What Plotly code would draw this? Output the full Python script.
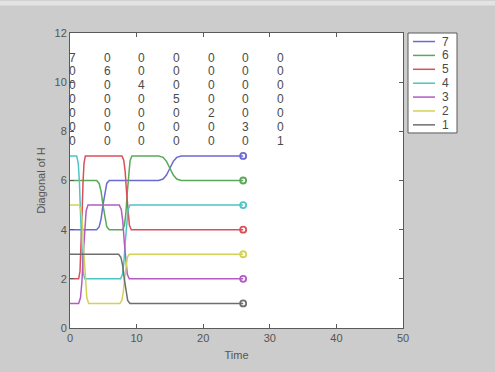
import plotly.graph_objects as go

# ---------------- data ----------------
series_labels = ["7", "6", "5", "4", "3", "2", "1"]
series_colors = ["#6a6ad2", "#5aa85a", "#d9505a", "#4fc4c4", "#b35cc4", "#d2d25a", "#6e6e6e"]

t_s7 = [0, 4.0, 4.38, 4.67, 4.95, 5.24, 5.52, 5.9, 13.3, 13.98, 14.49, 15.0, 15.51, 16.02, 16.7, 26]
y_s7 = [4, 4, 4.12, 4.44, 5.0, 5.56, 5.88, 6, 6, 6.06, 6.22, 6.5, 6.78, 6.94, 7, 7]

t_s6 = [0, 4.0, 4.38, 4.67, 4.95, 5.24, 5.52, 5.9, 7.9, 8.18, 8.39, 8.6, 8.81, 9.02, 9.3,
        13.3, 13.98, 14.49, 15.0, 15.51, 16.02, 16.7, 26]
y_s6 = [6, 6, 5.88, 5.56, 5.0, 4.44, 4.12, 4, 4, 4.18, 4.66, 5.5, 6.34, 6.82, 7,
        7, 6.94, 6.78, 6.5, 6.22, 6.06, 6, 6]

t_s5 = [0, 1.3, 1.5, 1.65, 1.8, 1.95, 2.1, 2.3, 7.8, 8.08, 8.29, 8.5, 8.71, 8.92, 9.2, 26]
y_s5 = [2, 2, 2.3, 3.1, 4.5, 5.9, 6.7, 7, 7, 6.82, 6.34, 5.5, 4.66, 4.18, 4, 4]

t_s4 = [0, 1.0, 1.24, 1.42, 1.6, 1.78, 1.96, 2.2, 7.6, 7.88, 8.09, 8.3, 8.51, 8.72, 9.0, 26]
y_s4 = [7, 7, 6.7, 5.9, 4.5, 3.1, 2.3, 2, 2, 2.18, 2.66, 3.5, 4.34, 4.82, 5, 5]

t_s3 = [0, 1.3, 1.58, 1.79, 2.0, 2.21, 2.42, 2.7, 7.4, 7.7, 7.93, 8.15, 8.38, 8.6, 8.9, 26]
y_s3 = [1, 1, 1.24, 1.88, 3.0, 4.12, 4.76, 5, 5, 4.82, 4.34, 3.5, 2.66, 2.18, 2, 2]

t_s2 = [0, 1.4, 1.68, 1.89, 2.1, 2.31, 2.52, 2.8, 7.5, 7.78, 7.99, 8.2, 8.41, 8.62, 8.9, 26]
y_s2 = [5, 5, 4.76, 4.12, 3.0, 1.88, 1.24, 1, 1, 1.12, 1.44, 2.0, 2.56, 2.88, 3, 3]

t_s1 = [0, 7.3, 7.64, 7.9, 8.15, 8.41, 8.66, 9.0, 26]
y_s1 = [3, 3, 2.88, 2.56, 2.0, 1.44, 1.12, 1, 1]

matrix_diag = [7, 6, 4, 5, 2, 3, 1]

x_ticks = [0, 10, 20, 30, 40, 50]
y_ticks = [0, 2, 4, 6, 8, 10, 12]

# ---------------- figure ----------------
W, H = 495, 372
ML, MR, MT, MB = 70, 92, 33, 38
PW, PH = W - ML - MR, H - MT - MB


def px2paper_x(px):
    return (px - ML) / PW


def px2paper_y(py):
    return (H - MB - py) / PH


series_t = [t_s7, t_s6, t_s5, t_s4, t_s3, t_s2, t_s1]
series_y = [y_s7, y_s6, y_s5, y_s4, y_s3, y_s2, y_s1]

fig = go.Figure()
for lab, col, tt, yy in zip(series_labels, series_colors, series_t, series_y):
    fig.add_trace(go.Scatter(x=tt, y=yy, mode="lines", name=lab,
                             line=dict(color=col, width=1.5), showlegend=False))
for lab, col, tt, yy in zip(series_labels, series_colors, series_t, series_y):
    fig.add_trace(go.Scatter(x=[tt[-1]], y=[yy[-1]], mode="markers", name=lab,
                             marker=dict(symbol="circle-open", size=6, color=col,
                                         line=dict(width=1.8, color=col)),
                             showlegend=False))

font_family = "Liberation Sans, Arial, sans-serif"
annotations = []
# matrix text (diagonal matrix)
n = len(matrix_diag)
for r in range(n):
    for c in range(n):
        val = matrix_diag[r] if r == c else 0
        annotations.append(dict(x=0.38 + 5.2 * c, y=11.0 - 0.565 * r, xref="x", yref="y",
                                text=str(val), showarrow=False, xanchor="center",
                                yanchor="middle",
                                font=dict(family=font_family, size=12, color="#4a4a4a")))

shapes = []
# light strip on top of window
shapes.append(dict(type="rect", xref="paper", yref="paper", layer="below",
                   x0=px2paper_x(0), x1=px2paper_x(W), y0=px2paper_y(5), y1=px2paper_y(0),
                   fillcolor="#e2e3e2", line=dict(width=0)))
# manual legend
lx0, lx1, ly0, ly1 = 408, 457, 33, 135
shapes.append(dict(type="rect", xref="paper", yref="paper",
                   x0=px2paper_x(lx0), x1=px2paper_x(lx1),
                   y0=px2paper_y(ly1), y1=px2paper_y(ly0),
                   fillcolor="white", line=dict(color="#5a5a5a", width=1)))
for i, (lab, col) in enumerate(zip(series_labels, series_colors)):
    py = 41.7 + 14.17 * i
    shapes.append(dict(type="line", xref="paper", yref="paper",
                       x0=px2paper_x(413), x1=px2paper_x(435),
                       y0=px2paper_y(py), y1=px2paper_y(py),
                       line=dict(color=col, width=1.5)))
    annotations.append(dict(x=px2paper_x(440), y=px2paper_y(py), xref="paper", yref="paper",
                            text=lab, showarrow=False, xanchor="left", yanchor="middle",
                            font=dict(family=font_family, size=12, color="#4a4a4a")))

axis_common = dict(showline=True, linecolor="#5a5a5a", linewidth=1, mirror="ticks",
                   ticks="inside", ticklen=4, tickcolor="#5a5a5a", showgrid=False,
                   zeroline=False, tickfont=dict(family=font_family, size=11, color="#555555"))

fig.update_layout(
    width=W, height=H,
    margin=dict(l=ML, r=MR, t=MT, b=MB, pad=0),
    paper_bgcolor="#cbcccb",
    plot_bgcolor="white",
    showlegend=False,
    xaxis=dict(range=[0, 50], tickvals=x_ticks, ticktext=[str(v) for v in x_ticks],
               title=dict(text="Time", font=dict(family=font_family, size=11, color="#555555"),
                          standoff=8),
               **axis_common),
    yaxis=dict(range=[0, 12], tickvals=y_ticks, ticktext=[str(v) for v in y_ticks],
               title=dict(text="Diagonal of H", font=dict(family=font_family, size=11, color="#555555"),
                          standoff=6),
               **axis_common),
    annotations=annotations,
    shapes=shapes,
)

fig.write_html("out.html",
               config={"displayModeBar": False},
               post_script="document.body.style.margin='0px';document.body.style.background='#cbcccb';")
